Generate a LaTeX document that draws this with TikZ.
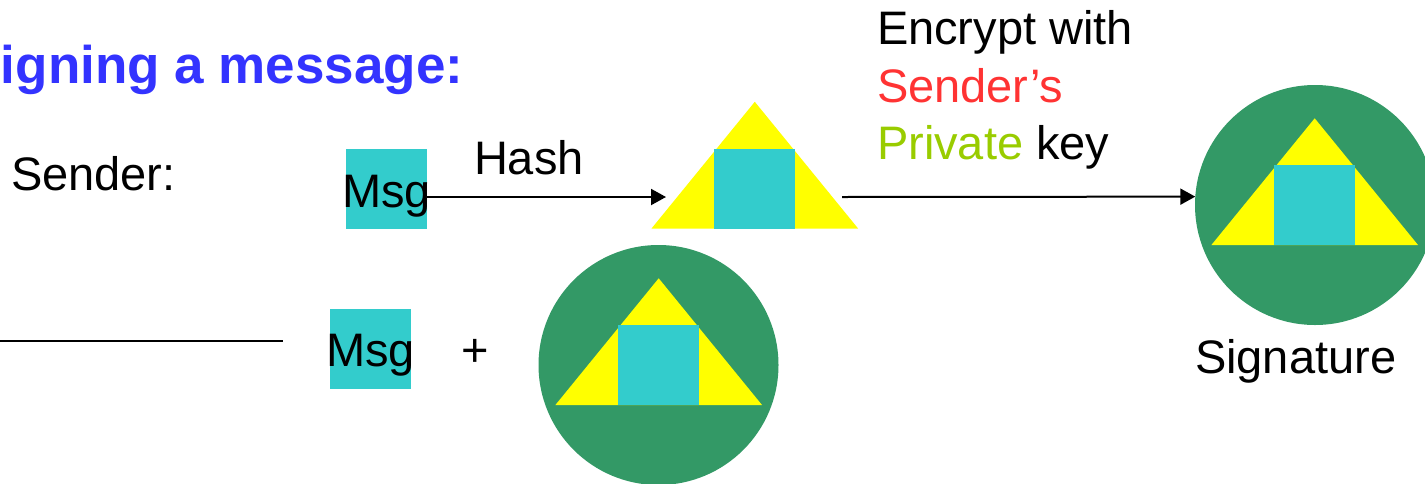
\documentclass[tikz,border=0pt]{standalone}
\usepackage{fontspec}
\setmainfont{Liberation Sans}
\usetikzlibrary{arrows.meta}
\definecolor{cyanbox}{HTML}{33CCCC}
\definecolor{yel}{HTML}{FFFF00}
\definecolor{sigg}{HTML}{339966}
\definecolor{titleblue}{HTML}{3333FF}
\definecolor{keyred}{HTML}{FF3333}
\definecolor{keygreen}{HTML}{99CC00}
\begin{document}
\begin{tikzpicture}[x=1pt,y=-1pt,
  every node/.style={inner sep=0pt,outer sep=0pt},
  lbl/.style={font=\fontsize{47}{57.5}\selectfont},
  msgbox/.style={rectangle,fill=cyanbox,minimum width=81pt,minimum height=80pt},
  sigdisc/.style={circle,fill=sigg,minimum size=240pt},
  arr/.style={line width=2pt,-{Triangle[length=15pt,width=16pt]}},
  hashpic/.pic={
    \fill[yel] (-103.3,0) -- (0,-126.7) -- (103.3,0) -- cycle;
    \fill[cyanbox] (-40.5,0) rectangle (40.5,-80);
  }]
\useasboundingbox (0,0) rectangle (1425,483);
\clip (0,0) rectangle (1425,483);

% title
\node[anchor=base west,font=\fontsize{53}{60}\selectfont\bfseries,text=titleblue] (title) at (1,83) {igning a message:};

% sender label
\node[lbl,anchor=base west] (sender) at (11,190) {Sender:};

% first message
\node[msgbox] (msg1) at (386.5,189) {};
\node[lbl,anchor=base] (msg1t) at (386.5,207) {Msg};

% hash
\pic at (754.8,228.5) {hashpic};
\coordinate (h1) at (666,197);
\draw[arr] (msg1.east |- h1) -- (h1);
\node[lbl,anchor=base west] (hashl) at (474,174) {Hash};

% encrypt
\node[lbl,anchor=base west] (enc1) at (877,44.5) {Encrypt with};
\node[lbl,anchor=base west,text=keyred] (enc2) at (877,102) {Sender’s};
\node[lbl,anchor=base west] (enc3) at (877,159.5) {\textcolor{keygreen}{Private} key};

% signature
\node[sigdisc] (sig) at (1315,205) {};
\pic at (1314.7,245) {hashpic};
\coordinate (e1) at (842,197);
\draw[arr] (e1) -- (sig.176.2);
\node[lbl,anchor=base west] (sigl) at (1195,373) {Signature};

% second row
\coordinate (l0) at (0,341);
\coordinate (l1) at (283,341);
\draw[line width=1.6pt] (l0) -- (l1);
\node[msgbox] (msg2) at (370.5,349) {};
\node[lbl,anchor=base] (msg2t) at (370.5,366) {Msg};
\node[lbl,anchor=base] (plus) at (475.5,366) {+};
\node[sigdisc] (sig2) at (658.5,365) {};
\pic at (658.7,405) {hashpic};
\end{tikzpicture}
\end{document}
